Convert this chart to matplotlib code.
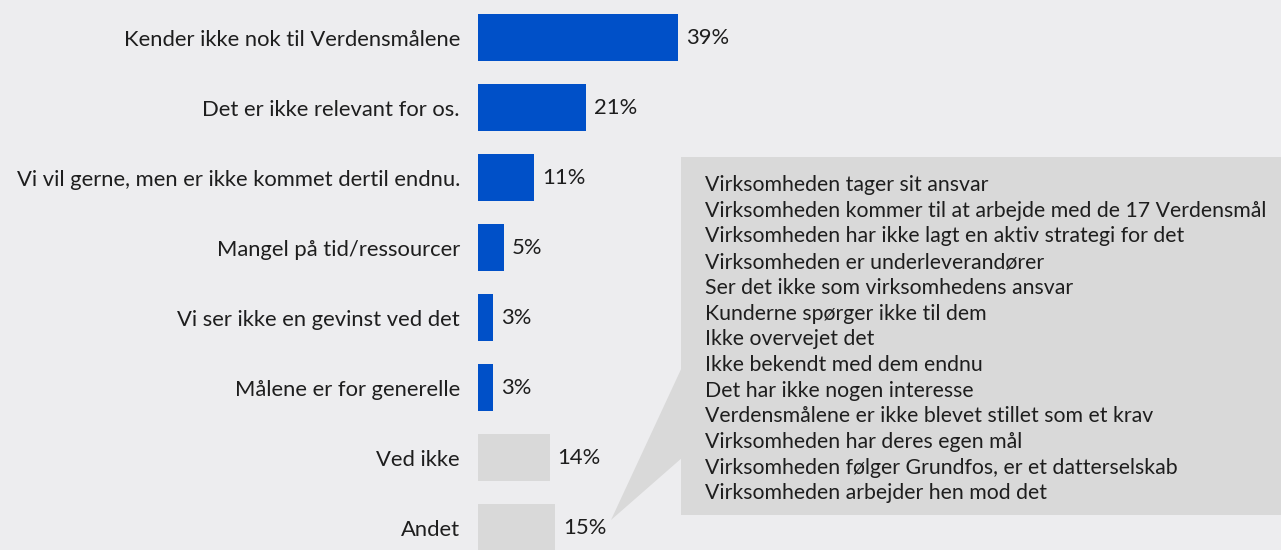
import matplotlib
matplotlib.use("Agg")
import matplotlib.pyplot as plt
from matplotlib.patches import Polygon, Rectangle

categories = [
    "Kender ikke nok til Verdensmålene",
    "Det er ikke relevant for os.",
    "Vi vil gerne, men er ikke kommet dertil endnu.",
    "Mangel på tid/ressourcer",
    "Vi ser ikke en gevinst ved det",
    "Målene er for generelle",
    "Ved ikke",
    "Andet",
]
values = [39, 21, 11, 5, 3, 3, 14, 15]
highlight = [True, True, True, True, True, True, False, False]
andet_answers = [
    "Virksomheden tager sit ansvar",
    "Virksomheden kommer til at arbejde med de 17 Verdensmål",
    "Virksomheden har ikke lagt en aktiv strategi for det",
    "Virksomheden er underleverandører",
    "Ser det ikke som virksomhedens ansvar",
    "Kunderne spørger ikke til dem",
    "Ikke overvejet det",
    "Ikke bekendt med dem endnu",
    "Det har ikke nogen interesse",
    "Verdensmålene er ikke blevet stillet som et krav",
    "Virksomheden har deres egen mål",
    "Virksomheden følger Grundfos, er et datterselskab",
    "Virksomheden arbejder hen mod det",
]

BG = "#EDEDEF"
BLUE = "#0050C8"
GREY = "#D9D9D9"
TXT = "#1E1E1E"
FONT = ["Lato", "DejaVu Sans"]
FS = 15.8
FS_BOX = 15.3

W, H = 1281, 550
fig = plt.figure(figsize=(W / 100, H / 100), dpi=100, facecolor=BG)

# bar axes in pixel layout
x0 = 478
ax = fig.add_axes([x0 / W, 0, 1 - x0 / W, 1])
ax.set_facecolor("none")
pxpp = 5.12
ax.set_xlim(0, (W - x0) / pxpp)
pitch = 70.0
c0 = 37.5
ax.set_ylim((H - c0) / pitch, (0 - c0) / pitch)
ypos = list(range(len(categories)))
colors = [BLUE if h else GREY for h in highlight]
ax.barh(ypos, values, height=47 / pitch, color=colors, edgecolor="none")
ax.set_yticks(ypos)
ax.set_yticklabels(categories, family=FONT, fontsize=FS, color=TXT)
ax.tick_params(axis="y", length=0, pad=13)
ax.set_xticks([])
for s in ax.spines.values():
    s.set_visible(False)
for y, v in zip(ypos, values):
    ax.annotate(f"{v}%", (v, y), xytext=(8, 0), textcoords="offset pixels",
                va="center", ha="left", family=FONT, fontsize=FS, color=TXT)

# callout overlay
ov = fig.add_axes([0, 0, 1, 1])
ov.set_xlim(0, W)
ov.set_ylim(H, 0)
ov.axis("off")
ov.set_facecolor("none")
ov.add_patch(Rectangle((681, 157), 700, 358, facecolor=GREY, edgecolor="none"))
ov.add_patch(Polygon([(611, 520), (683, 365), (683, 457)], closed=True,
                     facecolor=GREY, edgecolor="none"))
ty0 = 185
dy = 25.7
for i, t in enumerate(andet_answers):
    ov.text(705, ty0 + i * dy, t, va="center", ha="left", family=FONT,
            fontsize=FS_BOX, color=TXT)

fig.savefig("out.png", dpi=100, facecolor=BG)
